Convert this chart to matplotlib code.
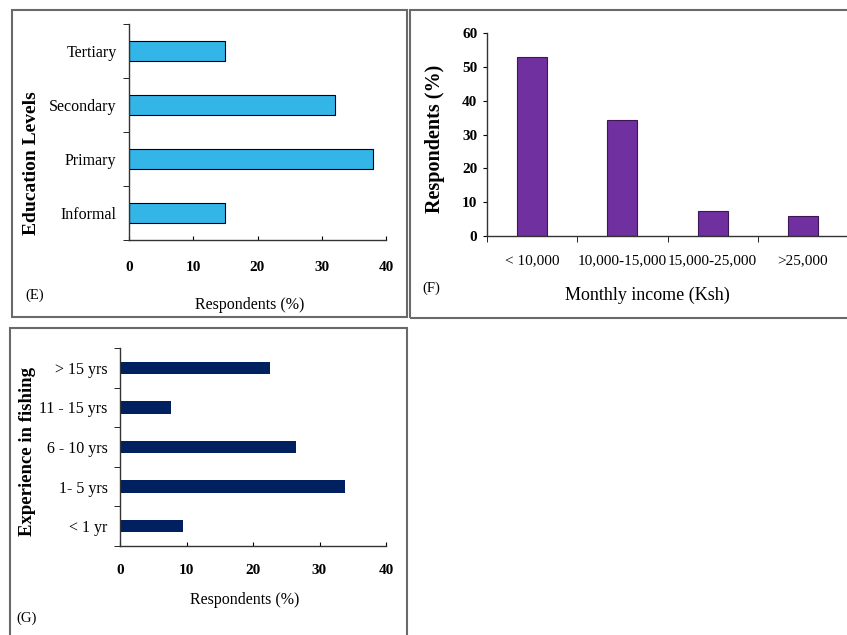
import matplotlib
matplotlib.use('Agg')
import matplotlib.pyplot as plt
from matplotlib.patches import Rectangle
import numpy as np

plt.rcParams['font.family'] = ['Liberation Serif', 'DejaVu Serif']

# ---------------- data ----------------
edu_levels = ['Informal', 'Primary', 'Secondary', 'Tertiary']
edu_pct = [15, 38, 32, 15]

income_groups = ['< 10,000', '10,000-15,000', '15,000-25,000', '>25,000']
income_pct = [53, 34.3, 7.5, 6]

exp_groups = ['< 1 yr', '1- 5 yrs', '6 - 10 yrs', '11 - 15 yrs', '> 15 yrs']
exp_pct = [9.5, 33.8, 26.5, 7.7, 22.6]

pct_ticks = [0, 10, 20, 30, 40]
income_ticks = [0, 10, 20, 30, 40, 50, 60]

# ---------------- layout (pixel based) ----------------
W, H = 847, 635
fig = plt.figure(figsize=(W / 100, H / 100), dpi=100)


def px_axes(l, t, r, b):
    return fig.add_axes([l / W, 1 - b / H, (r - l) / W, (b - t) / H])


def frame(l, t, r, b):
    fig.patches.append(Rectangle((l / W, 1 - b / H), (r - l) / W, (b - t) / H,
                                 transform=fig.transFigure, fill=False,
                                 edgecolor='#6a6a6a', linewidth=1.5, clip_on=False))


def ftext(x, y, s, **kw):
    fig.text(x / W, 1 - y / H, s, ha='center', va='center', **kw)


def clean(ax):
    for side in ['top', 'right']:
        ax.spines[side].set_visible(False)
    for side in ['left', 'bottom']:
        ax.spines[side].set_color('#333333')
        ax.spines[side].set_linewidth(1.0)


frame(12, 10, 407, 317)
frame(410, 10, 852, 318)
frame(10, 328, 407, 640)

# ---------------- (E) education ----------------
axE = px_axes(129, 24, 386, 240)
yE = np.arange(len(edu_levels))
axE.barh(yE, edu_pct, height=0.37, color='#33B5E8', edgecolor='black', linewidth=0.8)
axE.set_xlim(0, 40)
axE.set_ylim(-0.5, len(edu_levels) - 0.5)
axE.set_xticks(pct_ticks)
axE.set_xticklabels(pct_ticks, fontsize=11, fontweight='bold')
axE.tick_params(axis='x', direction='in', length=3, pad=15)
axE.set_yticks(yE)
axE.set_yticklabels(edu_levels, fontsize=11.5)
axE.tick_params(axis='y', which='major', length=0, pad=9)
axE.set_yticks(np.arange(-0.5, len(edu_levels)), minor=True)
axE.tick_params(axis='y', which='minor', length=4, direction='out')
clean(axE)

ftext(32, 163, 'Education Levels', rotation=90, fontsize=14, fontweight='bold')
ftext(250, 305, 'Respondents (%)', fontsize=11.5)
ftext(35, 295, '(E)', fontsize=10.5)

# ---------------- (F) income ----------------
axF = px_axes(487, 33, 848, 236)
xF = np.arange(len(income_groups))
axF.bar(xF, income_pct, width=0.33, color='#7030A0', edgecolor='#3b1658', linewidth=0.8)
axF.set_ylim(0, 60)
axF.set_xlim(-0.5, len(income_groups) - 0.5)
axF.set_yticks(income_ticks)
axF.set_yticklabels(income_ticks, fontsize=11, fontweight='bold')
axF.tick_params(axis='y', direction='out', length=3, pad=4)
axF.set_xticks(xF)
axF.set_xticklabels(income_groups, fontsize=11)
axF.tick_params(axis='x', which='major', length=0, pad=13)
axF.set_xticks(np.arange(-0.5, len(income_groups)), minor=True)
axF.tick_params(axis='x', which='minor', length=4, direction='out')
clean(axF)

ftext(435, 139, 'Respondents (%)', rotation=90, fontsize=14.5, fontweight='bold')
ftext(647, 295, 'Monthly income (Ksh)', fontsize=13)
ftext(431, 288, '(F)', fontsize=10.5)

# ---------------- (G) experience ----------------
axG = px_axes(120, 348, 386, 546)
yG = np.arange(len(exp_groups))
axG.barh(yG, exp_pct, height=0.31, color='#002060')
axG.set_xlim(0, 40)
axG.set_ylim(-0.5, len(exp_groups) - 0.5)
axG.set_xticks(pct_ticks)
axG.set_xticklabels(pct_ticks, fontsize=11, fontweight='bold')
axG.tick_params(axis='x', direction='in', length=3, pad=13)
axG.set_yticks(yG)
axG.set_yticklabels(exp_groups, fontsize=11.5)
axG.tick_params(axis='y', which='major', length=0, pad=9)
axG.set_yticks(np.arange(-0.5, len(exp_groups)), minor=True)
axG.tick_params(axis='y', which='minor', length=4, direction='out')
clean(axG)

ftext(28, 452, 'Experience in fishing', rotation=90, fontsize=13.5, fontweight='bold')
ftext(245, 600, 'Respondents (%)', fontsize=11.5)
ftext(27, 618, '(G)', fontsize=10.5)

fig.savefig('out.png', dpi=100)
